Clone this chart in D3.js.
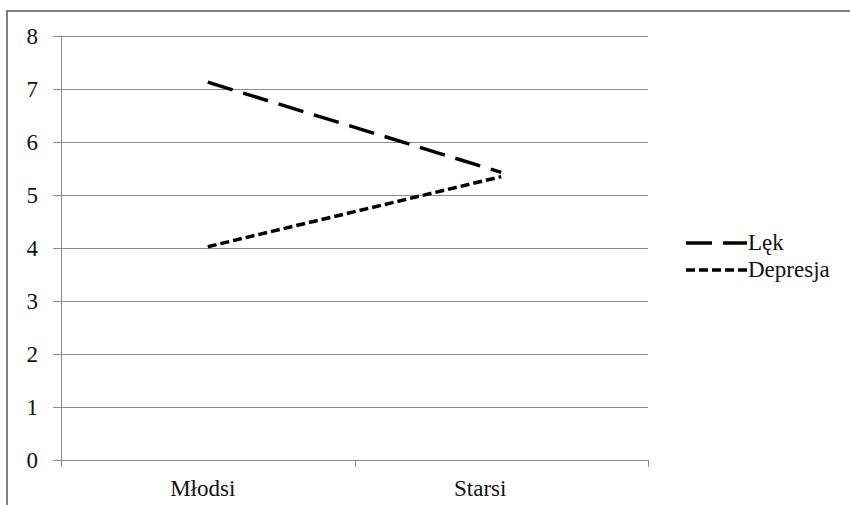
<!DOCTYPE html>
<html><head><meta charset="utf-8">
<script src="https://cdn.jsdelivr.net/npm/d3@7"></script>
<style>body{margin:0;background:#fff}svg{display:block}</style>
</head><body><svg id="c" width="850" height="505"></svg>
<script>
const categories = ["Młodsi", "Starsi"];
const lekValues = [7.12, 5.42];
const depresjaValues = [4.02, 5.34];
const yTicks = [0, 1, 2, 3, 4, 5, 6, 7, 8];
const seriesNames = ["Lęk", "Depresja"];

(function () {
const FONT = "'Liberation Serif', 'DejaVu Serif', 'Times New Roman', serif";
const FS = 23;
const svg = d3.select("#c").attr("font-family", FONT);
const pLeft = 61, pRight = 648, pTop = 35.5, pBottom = 460;
const x = d3.scaleBand().domain(categories).range([pLeft, pRight]);
const y = d3.scaleLinear().domain([0, 8]).range([pBottom, pTop]);
const grid = "#8a8a8a";

// border
svg.append("rect").attr("x", 7).attr("y", 11).attr("width", 900).attr("height", 600)
  .attr("fill", "none").attr("stroke", "#555").attr("stroke-width", 1.5);

// gridlines
svg.append("g").selectAll("line").data(yTicks).join("line")
  .attr("x1", pLeft - 8).attr("x2", pRight)
  .attr("y1", d => Math.round(y(d)) + 0.5).attr("y2", d => Math.round(y(d)) + 0.5)
  .attr("stroke", grid).attr("stroke-width", 1);

// y axis line
svg.append("line").attr("x1", pLeft + 0.5).attr("x2", pLeft + 0.5)
  .attr("y1", y(8)).attr("y2", pBottom + 7).attr("stroke", grid);

// x ticks
const xt = [pLeft, pLeft + x.bandwidth(), pRight];
svg.append("g").selectAll("line").data(xt).join("line")
  .attr("x1", d => Math.round(d) + 0.5).attr("x2", d => Math.round(d) + 0.5)
  .attr("y1", pBottom).attr("y2", pBottom + 7).attr("stroke", grid);

// y labels
svg.append("g").selectAll("text").data(yTicks).join("text")
  .attr("x", 38).attr("y", d => y(d)).attr("dy", "0.35em")
  .attr("text-anchor", "end").attr("font-size", FS).attr("fill", "#111")
  .attr("font-family", FONT).text(d => d);

// x labels
const labelShift = [-5, -21];
svg.append("g").selectAll("text").data(categories).join("text")
  .attr("x", (d, i) => x(d) + x.bandwidth() / 2 + labelShift[i]).attr("y", 496)
  .attr("text-anchor", "middle").attr("font-size", FS).attr("fill", "#111")
  .attr("font-family", FONT).text(d => d);

const series = [
  {name: seriesNames[0], values: lekValues, dash: "26,11"},
  {name: seriesNames[1], values: depresjaValues, dash: "9,4"}
];
const line = d3.line().x((d, i) => x(categories[i]) + x.bandwidth() / 2).y(d => y(d));
series.forEach(s => {
  svg.append("path").attr("d", line(s.values)).attr("fill", "none")
    .attr("stroke", "#000").attr("stroke-width", 3.5).attr("stroke-dasharray", s.dash);
});

// legend
const ly = [243, 270];
series.forEach((s, i) => {
  svg.append("line").attr("x1", 686).attr("x2", 747).attr("y1", ly[i]).attr("y2", ly[i])
    .attr("stroke", "#000").attr("stroke-width", 3.5).attr("stroke-dasharray", s.dash);
  svg.append("text").attr("x", 748).attr("y", ly[i]).attr("dy", "0.32em")
    .attr("font-size", FS).attr("fill", "#111").attr("font-family", FONT).text(s.name);
});
})();
</script></body></html>
